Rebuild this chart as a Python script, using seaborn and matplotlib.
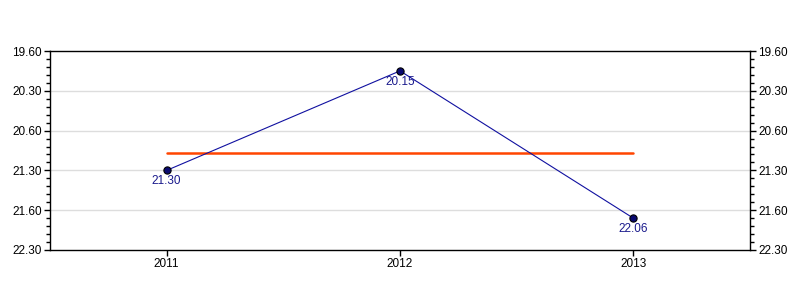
import matplotlib
matplotlib.use("Agg")
import matplotlib.pyplot as plt
from matplotlib.ticker import FixedLocator, MultipleLocator, FuncFormatter
import seaborn as sns
import pandas as pd
import numpy as np

# Data
years = ["2011", "2012", "2013"]
times = ["21.30", "20.15", "22.06"]          # minutes.seconds
y_ticks = ["19.60", "20.30", "20.60", "21.30", "21.60", "22.30"]


def to_seconds(t):
    m, s = t.split(".")
    return int(m) * 60 + int(s)


def fmt(sec, pos=None):
    sec = int(round(sec))
    m = int(np.ceil(sec / 60)) - 1
    s = sec - m * 60
    return f"{m}.{s:02d}"


secs = [to_seconds(t) for t in times]
avg = float(np.mean(secs))
df = pd.DataFrame({"year": years, "sec": secs, "label": times})

sns.set_style("white")
plt.rcParams["font.family"] = ["Liberation Sans", "DejaVu Sans"]

fig = plt.figure(figsize=(8, 3), dpi=100)
ax = fig.add_axes([0.0625, 0.1667, 0.875, 0.6633])

tick_secs = [to_seconds(t) for t in y_ticks]
for t in tick_secs[1:-1]:
    ax.axhline(t, color="#dddddd", lw=1, zorder=0)

x = np.arange(len(years))
df["x"] = x
sns.lineplot(data=df, x="x", y="sec", ax=ax, color="#1010a0", lw=0.8,
             marker="o", markersize=5.2, markerfacecolor="#0a0a70",
             markeredgecolor="black", markeredgewidth=0.8, zorder=3)
ax.plot([x[0], x[-1]], [avg, avg], color="#ff4500", lw=1.8, zorder=2)

for xi, s, lab in zip(x, secs, times):
    ax.annotate(lab, (xi, s), xytext=(0, -3.5), textcoords="offset points",
                ha="center", va="top", color="#1a1a8c", fontsize=8.5)

ax.set_xlim(-0.5, len(years) - 0.5)
ax.set_ylim(tick_secs[-1], tick_secs[0])
ax.set_xticks(x)
ax.set_xticklabels(years)
ax.yaxis.set_major_locator(FixedLocator(tick_secs))
ax.yaxis.set_minor_locator(MultipleLocator(6))
ax.yaxis.set_major_formatter(FuncFormatter(fmt))
ax.set_xlabel("")
ax.set_ylabel("")
ax.tick_params(axis="both", which="major", direction="out", length=4, width=1,
               color="black", labelsize=8.5, labelcolor="black", pad=2)
ax.tick_params(axis="y", which="minor", direction="out", length=3, width=1,
               color="black", left=True, right=True)
ax.tick_params(axis="y", which="major", left=True, right=True, labelright=True)
ax.tick_params(axis="x", which="major", bottom=True)
for sp in ax.spines.values():
    sp.set_color("black")
    sp.set_linewidth(1)

fig.savefig("out.png", dpi=100)
